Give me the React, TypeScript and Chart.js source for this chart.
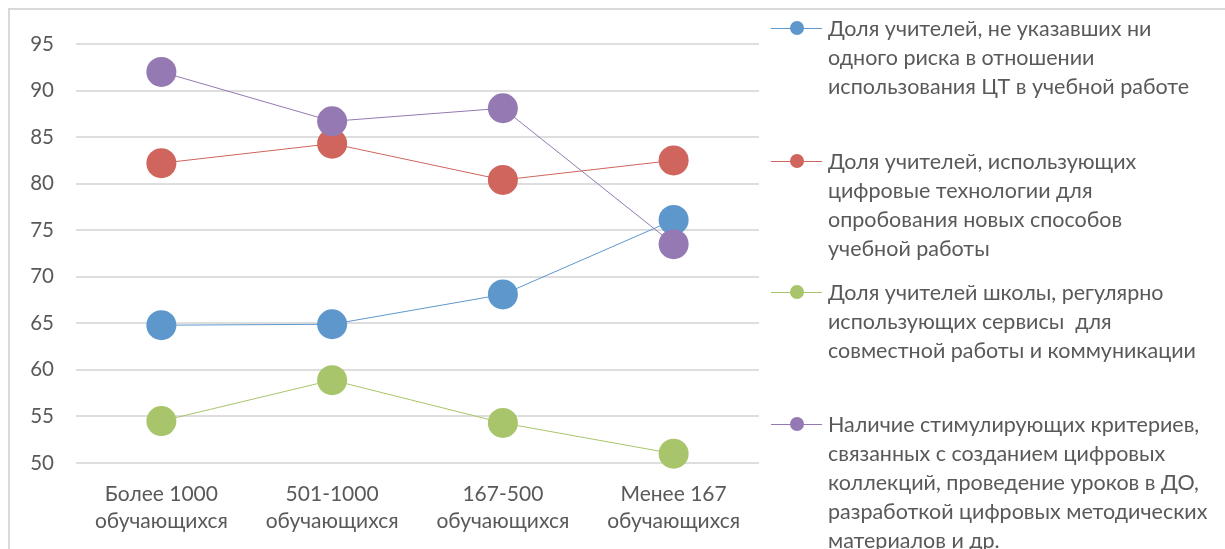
import React, { useEffect, useRef } from "react";
import { Chart, registerables } from "chart.js";

Chart.register(...registerables);

const categories: string[][] = [
  ["Более 1000", "обучающихся"],
  ["501-1000", "обучающихся"],
  ["167-500", "обучающихся"],
  ["Менее 167", "обучающихся"],
];

const seriesNoRisk = [64.8, 64.9, 68.1, 76.1];
const seriesNewMethods = [82.2, 84.3, 80.4, 82.5];
const seriesCollab = [54.5, 58.9, 54.3, 51.0];
const seriesIncentives = [92.0, 86.7, 88.1, 73.5];

const legendNoRisk = ["Доля учителей, не указавших ни", "одного риска в отношении", "использования ЦТ в учебной работе"];
const legendNewMethods = ["Доля учителей, использующих", "цифровые технологии для", "опробования новых способов", "учебной работы"];
const legendCollab = ["Доля учителей школы, регулярно", "использующих сервисы  для", "совместной работы и коммуникации"];
const legendIncentives = [
  "Наличие стимулирующих критериев,",
  "связанных с созданием цифровых",
  "коллекций, проведение уроков в ДО,",
  "разработкой цифровых методических",
  "материалов и др.",
];

const yMin = 50;
const yMax = 95;
const yStep = 5;

const COLORS = ["#5E97CC", "#CF655C", "#A8C56B", "#9479B2"];
const FONT = "Lato, 'Noto Sans', sans-serif";
const TEXT = "#595959";

const legendItems = [
  { lines: legendNoRisk, color: COLORS[0], top: 28 },
  { lines: legendNewMethods, color: COLORS[1], top: 161 },
  { lines: legendCollab, color: COLORS[2], top: 292 },
  { lines: legendIncentives, color: COLORS[3], top: 424 },
];

export default function App() {
  const ref = useRef<HTMLCanvasElement>(null);

  useEffect(() => {
    if (!ref.current) return;
    const mk = (label: string, data: number[], color: string, order: number) => ({
      label,
      data,
      borderColor: color,
      backgroundColor: color,
      pointBackgroundColor: color,
      pointBorderColor: color,
      pointRadius: 15,
      pointBorderWidth: 0,
      borderWidth: 1,
      tension: 0,
      order,
      clip: false as any,
    });
    const chart = new Chart(ref.current, {
      type: "line",
      data: {
        labels: categories,
        datasets: [
          mk(legendNoRisk.join(" "), seriesNoRisk, COLORS[0], 4),
          mk(legendNewMethods.join(" "), seriesNewMethods, COLORS[1], 3),
          mk(legendCollab.join(" "), seriesCollab, COLORS[2], 2),
          mk(legendIncentives.join(" "), seriesIncentives, COLORS[3], 1),
        ],
      },
      options: {
        animation: false,
        responsive: false,
        maintainAspectRatio: false,
        layout: { padding: { top: 36, right: 2, left: 0, bottom: 0 } },
        plugins: { legend: { display: false }, tooltip: { enabled: false } },
        scales: {
          x: {
            offset: true,
            grid: { display: false, drawTicks: false },
            border: { display: false },
            ticks: { color: TEXT, font: { family: FONT, size: 21, lineHeight: 1.29 }, padding: 18, maxRotation: 0 },
            afterFit: (s: any) => {
              s.height = 86;
            },
          },
          y: {
            min: yMin,
            max: yMax,
            grid: { color: "#dedede", lineWidth: 2, drawTicks: false },
            border: { display: false },
            ticks: { stepSize: yStep, color: TEXT, font: { family: FONT, size: 20.5 }, padding: 22 },
            afterFit: (s: any) => {
              s.width = 68;
            },
          },
        },
      },
    });
    return () => chart.destroy();
  }, []);

  return (
    <div style={{ position: "fixed", left: 0, top: 0, width: 1225, height: 549, overflow: "hidden", background: "#fff" }}>
      <div
        style={{
          position: "absolute",
          left: 8,
          top: 8,
          width: 1300,
          height: 700,
          borderLeft: "2px solid #d9d9d9",
          borderTop: "2px solid #d9d9d9",
        }}
      />
      <canvas ref={ref} width={766} height={541} style={{ position: "absolute", left: 8, top: 8, width: 766, height: 541 }} />
      {legendItems.map((it, i) => (
        <div key={i} style={{ position: "absolute", left: 0, top: 0 }}>
          <div style={{ position: "absolute", left: 771, top: it.top - 0.5, width: 51, height: 1, background: it.color }} />
          <div
            style={{
              position: "absolute",
              left: 797 - 7,
              top: it.top - 7,
              width: 14,
              height: 14,
              borderRadius: 7,
              background: it.color,
            }}
          />
          <div
            style={{
              position: "absolute",
              left: 828,
              top: it.top - 14.5,
              fontFamily: FONT,
              fontSize: 21.5,
              lineHeight: "29px",
              color: TEXT,
              whiteSpace: "pre",
            }}
          >
            {it.lines.map((l, j) => (
              <div key={j}>{l}</div>
            ))}
          </div>
        </div>
      ))}
    </div>
  );
}
